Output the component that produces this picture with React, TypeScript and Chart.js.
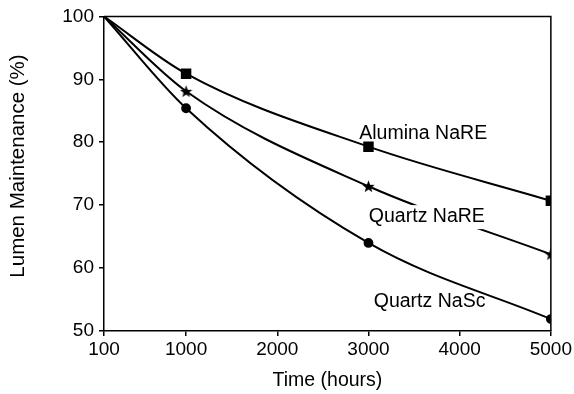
import React, { useEffect, useRef } from "react";
import { Chart, registerables } from "chart.js";

Chart.register(...registerables);

const hours = [100, 1000, 3000, 5000];
const aluminaNaRE = [100, 90.9, 79.3, 70.7];
const quartzNaRE = [100, 88.1, 73.0, 62.2];
const quartzNaSc = [100, 85.4, 64.0, 51.9];
const xTicks = [100, 1000, 2000, 3000, 4000, 5000];
const yTicks = [50, 60, 70, 80, 90, 100];
const seriesLabels = ["Alumina NaRE", "Quartz NaRE", "Quartz NaSc"];
const xTitle = "Time (hours)";
const yTitle = "Lumen Maintenance (%)";

const FONT = "'Liberation Sans', Arial, Helvetica, sans-serif";

function makeStar(size: number): HTMLCanvasElement {
  const c = document.createElement("canvas");
  c.width = size;
  c.height = size;
  const ctx = c.getContext("2d")!;
  const cx = size / 2, cy = size / 2 + 0.6;
  const R = size / 2, r = R * 0.42;
  ctx.beginPath();
  for (let i = 0; i < 10; i++) {
    const ang = -Math.PI / 2 + (i * Math.PI) / 5;
    const rad = i % 2 === 0 ? R : r;
    const px = cx + rad * Math.cos(ang);
    const py = cy + rad * Math.sin(ang);
    if (i === 0) ctx.moveTo(px, py);
    else ctx.lineTo(px, py);
  }
  ctx.closePath();
  ctx.fillStyle = "#000";
  ctx.fill();
  return c;
}

const pts = (ys: number[]) => hours.map((h, i) => ({ x: h, y: ys[i] }));

const labelPlugin = {
  id: "seriesLabels",
  afterDatasetsDraw(chart: any) {
    const ctx = chart.ctx;
    const xs = chart.scales.x;
    const ys = chart.scales.y;
    ctx.save();
    ctx.font = `19.5px ${FONT}`;
    ctx.fillStyle = "#000";
    ctx.textAlign = "center";
    ctx.textBaseline = "middle";
    const spots = [
      { t: seriesLabels[0], x: 3600, y: 81.4, bg: false },
      { t: seriesLabels[1], x: 3640, y: 68.1, bg: true },
      { t: seriesLabels[2], x: 3670, y: 54.7, bg: false },
    ];
    for (const s of spots) {
      const px = xs.getPixelForValue(s.x);
      const py = ys.getPixelForValue(s.y);
      if (s.bg) {
        const w = ctx.measureText(s.t).width;
        ctx.fillStyle = "#fff";
        ctx.fillRect(px - w / 2 - 3, py - 12, w + 6, 24);
        ctx.fillStyle = "#000";
      }
      ctx.fillText(s.t, px, py);
    }
    // y title
    ctx.save();
    ctx.translate(18, 166);
    ctx.rotate(-Math.PI / 2);
    ctx.font = `20.5px ${FONT}`;
    ctx.fillText(yTitle, 0, 0);
    ctx.restore();
    ctx.restore();
    // frame top and right
    const a = chart.chartArea;
    ctx.save();
    ctx.strokeStyle = "#000";
    ctx.lineWidth = 1.5;
    ctx.beginPath();
    ctx.moveTo(a.left, a.top);
    ctx.lineTo(a.right, a.top);
    ctx.lineTo(a.right, a.bottom);
    ctx.stroke();
    ctx.restore();
  },
};

export default function App() {
  const ref = useRef<HTMLCanvasElement>(null);
  useEffect(() => {
    const star = makeStar(13);
    const common = {
      borderColor: "#000",
      backgroundColor: "#000",
      borderWidth: 2,
      pointHoverRadius: 4,
      cubicInterpolationMode: "monotone" as const,
      fill: false,
    };
    const chart = new Chart(ref.current!, {
      type: "line",
      data: {
        datasets: [
          { ...common, label: seriesLabels[0], data: pts(aluminaNaRE), pointStyle: "rect", pointRadius: [0, 6, 6, 6] },
          { ...common, label: seriesLabels[1], data: pts(quartzNaRE), pointStyle: star as any, pointRadius: [0, 6, 6, 6] },
          { ...common, label: seriesLabels[2], data: pts(quartzNaSc), pointStyle: "circle", pointRadius: [0, 3.9, 3.9, 3.9] },
        ],
      },
      options: {
        animation: false,
        responsive: false,
        layout: { padding: { left: 0, top: 15, right: 23, bottom: 0 } },
        plugins: { legend: { display: false }, tooltip: { enabled: false } },
        scales: {
          x: {
            type: "linear",
            min: 100,
            max: 5000,
            afterBuildTicks: (s: any) => {
              s.ticks = xTicks.map((v) => ({ value: v }));
            },
            afterFit: (s: any) => {
              s.height = 63;
            },
            ticks: {
              color: "#000",
              font: { family: FONT, size: 19 },
              padding: 2,
              maxRotation: 0,
              autoSkip: false,
              callback: (v: any) => String(v),
            },
            grid: { drawOnChartArea: false, tickLength: 5, color: "#000", lineWidth: 1.5 },
            border: { color: "#000", width: 1.5 },
            title: {
              display: true,
              text: xTitle,
              color: "#000",
              font: { family: FONT, size: 19.5 },
              padding: { top: 0, bottom: 2 },
            },
          },
          y: {
            type: "linear",
            min: 50,
            max: 100,
            afterBuildTicks: (s: any) => {
              s.ticks = yTicks.map((v) => ({ value: v }));
            },
            afterFit: (s: any) => {
              s.width = 104;
            },
            ticks: {
              color: "#000",
              font: { family: FONT, size: 19 },
              padding: 5,
            },
            grid: { drawOnChartArea: false, tickLength: 5, color: "#000", lineWidth: 1.5 },
            border: { color: "#000", width: 1.5 },
          },
        },
      },
      plugins: [labelPlugin],
    });
    return () => chart.destroy();
  }, []);
  return (
    <div style={{ position: "absolute", left: 0, top: 0, width: 574, height: 394, background: "#fff" }}>
      <canvas ref={ref} width={574} height={394} style={{ display: "block" }} />
    </div>
  );
}
